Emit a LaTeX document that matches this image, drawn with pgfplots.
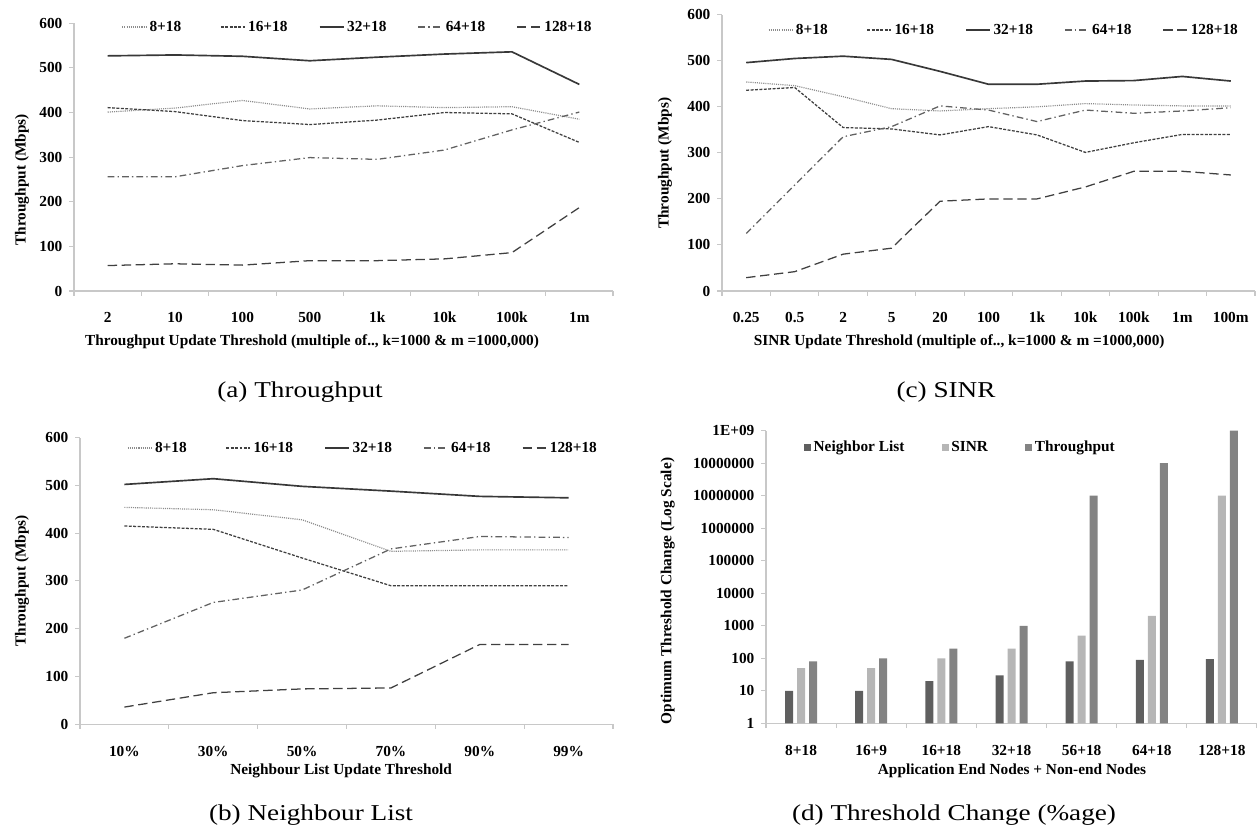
\documentclass[border=0pt]{standalone}
\usepackage{fontspec}
\setmainfont{Liberation Serif}
\newfontfamily\capfont[FakeStretch=1.2]{Liberation Serif}
\usepackage{pgfplots}
\usepackage{pgfplotstable}
\pgfplotsset{compat=1.18}

\definecolor{axgray}{HTML}{C8C8C8}
\definecolor{nlbar}{HTML}{5F5F5F}
\definecolor{sinrbar}{HTML}{B6B6B6}
\definecolor{thrbar}{HTML}{838383}

% Throughput vs. update threshold
\pgfplotstableread{
x  a   b   c   d   e
1  401 411 527 256 57
2  410 402 529 256 61
3  427 382 526 281 58
4  408 373 516 299 68
5  415 383 524 295 68
6  411 400 531 316 72
7  413 397 536 361 86
8  385 333 463 401 187
}\tputdata

% SINR update threshold
\pgfplotstableread{
x  a   b   c   d   e
1  454 436 496 125 29
2  446 442 505 230 42
3  422 355 510 335 80
4  396 352 503 357 93
5  391 339 477 402 195
6  396 357 449 393 200
7  400 339 449 368 200
8  407 301 456 393 226
9  404 322 457 386 260
10 402 340 466 391 260
11 402 340 456 398 252
}\sinrdata

% Neighbour list update threshold
\pgfplotstableread{
x  a   b   c   d   e
1  454 415 502 180 36
2  449 408 514 255 66
3  428 348 498 281 74
4  362 290 488 367 76
5  365 290 477 393 167
6  365 290 474 391 167
}\nldata

\newcommand\chartfont{\bfseries\fontsize{11.5}{13.5}\selectfont}

\pgfplotsset{
  panel/.style={
    scale only axis,
    anchor=south west,
    axis lines=left,
    axis line style={-, draw=axgray, line width=0.8pt},
    tick style={draw=axgray, line width=0.8pt},
    tick align=outside,
    major tick length=3.5pt,
    font=\chartfont,
    /pgf/number format/assume math mode=true,
    xticklabels={},
    extra x tick style={tick style={draw=none}},
    xticklabel style={anchor=center, yshift=-16.5pt},
    yticklabel style={anchor=east, inner xsep=0pt, xshift=-5pt},
    ylabel style={anchor=center},
    xlabel style={anchor=center},
    clip=false,
  },
  linelegend/.style={
    legend columns=5,
    legend style={draw=none, fill=none, inner sep=0pt, anchor=west,
      nodes={inner xsep=2pt, text width=51pt, align=left}},
    legend image code/.code={\draw[##1] (0pt,0pt) -- (18pt,0pt);},
  },
  s8/.style={color=black!45, line width=0.9pt, dash pattern=on 0.8pt off 0.8pt},
  s16/.style={color=black!75, line width=0.95pt, dash pattern=on 2.2pt off 1.1pt},
  s32/.style={color=black!78, line width=1.25pt},
  s64/.style={color=black!62, line width=0.95pt, dash pattern=on 5pt off 2.4pt on 1pt off 2.4pt},
  s128/.style={color=black!75, line width=0.95pt, dash pattern=on 7pt off 3.5pt},
  sqlegend/.style={legend image code/.code={\fill[##1] (0pt,-2.6pt) rectangle (5.2pt,2.6pt);}},
}

\begin{document}
\begin{tikzpicture}
\path[use as bounding box] (0pt,0pt) rectangle (942.75pt,-620.25pt);

% (a) Throughput
\begin{axis}[panel, linelegend,
  at={(55.5pt,-218.25pt)}, width=404.25pt, height=200.8pt,
  xmin=0.5, xmax=8.5, ymin=0, ymax=600, ytick={0,100,...,600},
  xtick={0.5,1.5,...,8.5},
  extra x ticks={1,...,8},
  extra x tick labels={2,10,100,500,1k,10k,100k,1m},
  xlabel={Throughput Update Threshold (multiple of.., k=1000 \& m =1000,000)},
  ylabel={Throughput (Mbps)},
  xlabel style={at={(axis description cs:0.4416,-0.19)}},
  ylabel style={at={(axis description cs:-0.0965,0.415)}},
  legend style={at={(axis description cs:0.088,0.986)}},
]
\addplot[s8] table[x=x, y=a] {\tputdata};
\addplot[s16] table[x=x, y=b] {\tputdata};
\addplot[s32] table[x=x, y=c] {\tputdata};
\addplot[s64] table[x=x, y=d] {\tputdata};
\addplot[s128] table[x=x, y=e] {\tputdata};
\legend{8+18,16+18,32+18,64+18,128+18}
\end{axis}

% (c) SINR
\begin{axis}[panel, linelegend,
  at={(541.5pt,-218.25pt)}, width=399.75pt, height=207.2pt,
  xmin=0.5, xmax=11.5, ymin=0, ymax=600, ytick={0,100,...,600},
  xtick={0.5,1.5,...,11.5},
  extra x ticks={1,...,11},
  extra x tick labels={0.25,0.5,2,5,20,100,1k,10k,100k,1m,100m},
  xlabel={SINR Update Threshold (multiple of.., k=1000 \& m =1000,000)},
  ylabel={Throughput (Mbps)},
  xlabel style={at={(axis description cs:0.445,-0.185)}},
  ylabel style={at={(axis description cs:-0.107,0.463)}},
  legend style={at={(axis description cs:0.086,0.945)}},
]
\addplot[s8] table[x=x, y=a] {\sinrdata};
\addplot[s16] table[x=x, y=b] {\sinrdata};
\addplot[s32] table[x=x, y=c] {\sinrdata};
\addplot[s64] table[x=x, y=d] {\sinrdata};
\addplot[s128] table[x=x, y=e] {\sinrdata};
\legend{8+18,16+18,32+18,64+18,128+18}
\end{axis}

% (b) Neighbour List
\begin{axis}[panel, linelegend,
  at={(60pt,-543.2pt)}, width=399.75pt, height=215pt,
  xmin=0.5, xmax=6.5, ymin=0, ymax=600, ytick={0,100,...,600},
  xtick={0.5,1.5,...,6.5},
  extra x ticks={1,...,6},
  extra x tick labels={10\%,30\%,50\%,70\%,90\%,99\%},
  xticklabel style={yshift=-0.5pt},
  xlabel={Neighbour List Update Threshold},
  ylabel={Throughput (Mbps)},
  xlabel style={at={(axis description cs:0.49,-0.163)}},
  ylabel style={at={(axis description cs:-0.109,0.5)}},
  legend style={at={(axis description cs:0.088,0.964)}},
]
\addplot[s8] table[x=x, y=a] {\nldata};
\addplot[s16] table[x=x, y=b] {\nldata};
\addplot[s32] table[x=x, y=c] {\nldata};
\addplot[s64] table[x=x, y=d] {\nldata};
\addplot[s128] table[x=x, y=e] {\nldata};
\legend{8+18,16+18,32+18,64+18,128+18}
\end{axis}

% (d) Threshold change
\begin{axis}[panel,
  at={(574.5pt,-542.5pt)}, width=368.25pt, height=219.5pt,
  ybar=3pt, bar width=6pt,
  ymode=log, log basis y=10, ymin=1, ymax=1e9,
  yminorticks=false,
  ytick={1,10,100,1000,1e4,1e5,1e6,1e7,1e8,1e9},
  yticklabels={1,10,100,1000,10000,100000,1000000,10000000,10000000,1E+09},
  xmin=0.5, xmax=7.5,
  xtick={0.5,1.5,...,7.5},
  extra x ticks={1,...,7},
  extra x tick labels={8+18,16+9,16+18,32+18,56+18,64+18,128+18},
  xticklabel style={yshift=-0.5pt},
  xlabel={Application End Nodes + Non-end Nodes},
  ylabel={Optimum Threshold Change (Log Scale)},
  xlabel style={at={(axis description cs:0.501,-0.163)}},
  ylabel style={at={(axis description cs:-0.2,0.452)}},
  legend columns=3,
  legend style={draw=none, fill=none, inner sep=0pt, anchor=west,
    at={(axis description cs:0.077,0.944)},
    /tikz/every even column/.append style={column sep=26pt}},
]
\addplot[sqlegend, fill=nlbar, draw=none] coordinates {(1,10) (2,10) (3,20) (4,30) (5,80) (6,90) (7,95)};
\addplot[sqlegend, fill=sinrbar, draw=none] coordinates {(1,50) (2,50) (3,100) (4,200) (5,500) (6,2000) (7,1e7)};
\addplot[sqlegend, fill=thrbar, draw=none] coordinates {(1,80) (2,100) (3,200) (4,1000) (5,1e7) (6,1e8) (7,1e9)};
\legend{Neighbor List,SINR,Throughput}
\end{axis}

\node[font=\capfont\fontsize{17}{19}\selectfont] at (225pt,-294pt) {(a) Throughput};
\node[font=\capfont\fontsize{17}{19}\selectfont] at (709.5pt,-294pt) {(c) SINR};
\node[font=\capfont\fontsize{17}{19}\selectfont] at (233.25pt,-611.25pt) {(b) Neighbour List};
\node[font=\capfont\fontsize{17}{19}\selectfont] at (715.5pt,-611.25pt) {(d) Threshold Change (\%age)};
\end{tikzpicture}
\end{document}
